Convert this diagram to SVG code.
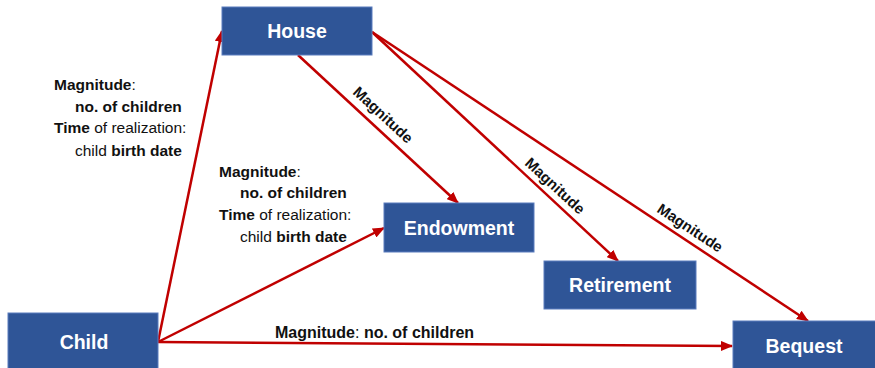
<svg xmlns="http://www.w3.org/2000/svg" width="875" height="368" viewBox="0 0 875 368">
<style>
.box{fill:#2F5597;stroke:#5B7DBE;stroke-width:1}
.bt{fill:#fff;font-family:"Liberation Sans",Arial,sans-serif;font-weight:bold;font-size:19.5px;text-anchor:middle}
.lbl{fill:#111;font-family:"Liberation Sans",Arial,sans-serif;font-size:15.5px}
.b{font-weight:bold}
.rl{fill:#111;font-family:"Liberation Sans",Arial,sans-serif;font-size:15px;font-weight:bold;text-anchor:middle}
.conn{stroke:#C00000;stroke-width:2.5;fill:none;marker-end:url(#ah)}
</style>
<defs>
<marker id="ah" markerUnits="userSpaceOnUse" markerWidth="12" markerHeight="10" refX="11" refY="5" orient="auto">
<path d="M0,0 L12,5 L0,10 z" fill="#C00000"/>
</marker>
</defs>
<rect width="875" height="368" fill="#fff"/>
<g id="connectors">
<line class="conn" x1="158" y1="342" x2="222" y2="31"/>
<line class="conn" x1="158" y1="342" x2="384" y2="228"/>
<line class="conn" x1="158" y1="342" x2="732" y2="346"/>
<line class="conn" x1="298" y1="55" x2="458" y2="203"/>
<line class="conn" x1="372" y1="32" x2="618" y2="261"/>
<line class="conn" x1="372" y1="32" x2="808" y2="321"/>
</g>
<g id="house"><rect class="box" x="222" y="7" width="150" height="48"/><text class="bt" x="297" y="38">House</text></g>
<g id="endowment"><rect class="box" x="384" y="203" width="150" height="49"/><text class="bt" x="459" y="235">Endowment</text></g>
<g id="retirement"><rect class="box" x="544" y="261" width="152" height="48"/><text class="bt" x="620" y="292">Retirement</text></g>
<g id="bequest"><rect class="box" x="733" y="321" width="145" height="52"/><text class="bt" x="804" y="353">Bequest</text></g>
<g id="child"><rect class="box" x="8" y="313" width="150" height="60"/><text class="bt" x="84" y="349">Child</text></g>
<g id="labels">
<text class="lbl" x="54" y="90"><tspan class="b">Magnitude</tspan>:</text>
<text class="lbl b" x="75" y="112">no. of children</text>
<text class="lbl" x="54" y="133"><tspan class="b">Time</tspan> of realization:</text>
<text class="lbl" x="75" y="156">child <tspan class="b">birth date</tspan></text>
<text class="lbl" x="219" y="177"><tspan class="b">Magnitude</tspan>:</text>
<text class="lbl b" x="240" y="198">no. of children</text>
<text class="lbl" x="219" y="220"><tspan class="b">Time</tspan> of realization:</text>
<text class="lbl" x="240" y="242">child <tspan class="b">birth date</tspan></text>
<text class="lbl" x="275" y="338" style="font-size:16px"><tspan class="b">Magnitude</tspan>: <tspan class="b">no. of children</tspan></text>
<text class="rl" transform="translate(383,115) rotate(42.8)" y="5">Magnitude</text>
<text class="rl" transform="translate(555,186) rotate(42.6)" y="5">Magnitude</text>
<text class="rl" transform="translate(690,228) rotate(33.5)" y="5">Magnitude</text>
</g>
</svg>
